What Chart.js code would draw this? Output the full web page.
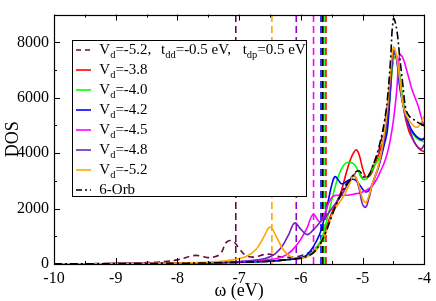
<!DOCTYPE html>
<html>
<head>
<meta charset="utf-8">
<script src="https://cdn.jsdelivr.net/npm/chart.js@4.4.1/dist/chart.umd.min.js"></script>
<style>
html,body{margin:0;padding:0;background:#fff;}
canvas{display:block;}
</style>
</head>
<body>
<canvas id="c" width="436" height="301" style="width:436px;height:301px"></canvas>
<script>
// ω grid (eV)
const omega = [-10,-9.5,-9,-8.5,-8.2,-8,-7.9,-7.8,-7.7,-7.6,-7.5,-7.4,-7.3,-7.2,-7.1,-7.0,-6.9,-6.8,-6.7,-6.6,-6.5,-6.4,-6.3,-6.2,-6.1,-6.0,-5.9,-5.8,
  -5.7,-5.65,-5.6,-5.55,-5.5,-5.45,-5.4,-5.35,-5.3,-5.25,-5.2,-5.15,-5.1,-5.05,-5.0,-4.95,-4.9,-4.85,-4.8,-4.75,-4.7,-4.65,-4.6,-4.55,-4.5,-4.45,-4.4,-4.35,-4.3,-4.25,-4.2,-4.15,-4.1,-4.05,-4.0];

const dosVd52tdd = [5,10,20,50,90,150,210,275,310,280,230,260,380,800,820,560,320,250,280,340,350,290,250,240,260,300,380,500,
  730,940,1180,1480,1780,2080,2330,2580,2780,2940,3090,3200,3280,3240,3100,3050,3200,3450,3700,4000,4450,5000,5700,6700,7600,7500,6800,5900,5300,5000,4800,4650,4550,4500,4500];
const dosVd38 = [5,8,12,18,22,25,28,30,33,36,40,44,48,52,57,62,68,75,83,92,105,120,140,160,185,220,290,430,
  700,900,1200,1550,1850,2080,2300,2600,3000,3400,3750,4000,4120,3900,3450,3150,3150,3300,3600,3900,4200,4600,5200,6300,7400,7500,6700,5900,5200,4800,4550,4350,4200,4100,4050];
const dosVd40 = [5,8,12,18,22,25,28,30,33,36,40,44,48,52,57,62,68,75,83,92,105,120,140,160,185,220,300,440,
  750,1000,1400,1850,2300,2750,3120,3400,3580,3660,3660,3620,3480,3260,3070,3060,3180,3380,3580,3750,4000,4400,5000,6200,7400,7500,6800,6000,5400,5000,4750,4600,4500,4450,4400];
const dosVd42 = [5,8,12,18,22,25,28,30,33,36,40,44,48,52,57,62,68,75,83,92,105,120,140,160,185,230,330,620,
  1050,1400,1850,2350,2850,3150,3050,2900,2920,3000,3050,3060,3000,2860,2700,2600,2650,2850,3150,3450,3850,4300,4800,6300,7700,7400,6400,5800,5350,5050,4800,4650,4550,4480,4550];
const dosVd45 = [5,8,12,18,22,25,28,31,35,39,44,49,55,62,70,80,92,106,122,140,165,200,260,380,600,900,1300,1790,
  1520,1620,1900,2200,2400,2470,2480,2480,2480,2480,2500,2520,2540,2560,2600,2650,2720,2800,2950,3150,3400,3650,4000,4500,5200,6200,7550,7450,7100,6700,6300,6000,5700,5300,4950];
const dosVd48 = [5,8,12,18,22,26,30,34,38,42,48,54,60,68,78,90,105,125,150,190,260,400,650,1050,1480,1250,1060,1230,
  1480,1600,1700,1850,2000,2150,2300,2450,2650,2850,3050,3200,3050,2650,2150,2050,2350,2800,3150,3450,3900,4500,5300,6500,7650,7400,6600,5800,5250,4950,4600,4350,4200,4150,4300];
const dosVd52 = [5,8,12,20,28,35,40,45,52,60,70,82,98,120,150,195,260,380,600,980,1330,1000,560,320,220,200,260,390,
  650,850,1100,1450,1750,1980,2150,2300,2480,2700,2950,3200,3100,2750,2350,2220,2450,2850,3150,3500,4000,4700,5600,6900,7820,7500,6700,5800,5400,5200,5050,4950,4950,5100,5350];
const dos6Orb = [5,8,12,18,22,25,28,30,33,36,40,44,48,52,57,62,68,75,83,92,105,120,140,160,185,210,280,400,
  680,880,1120,1420,1720,2020,2280,2530,2730,2890,3040,3200,3340,3350,3200,3100,3200,3450,3750,4100,4550,5100,5900,7300,8850,8500,7500,6500,5600,5350,5250,5180,5100,5050,5000];

// chemical potentials (vertical dashed lines)
const muPositions = [-7.055, -6.47, -6.075, -5.795, -5.674, -5.645, -5.626, -5.594];
const muColors = ['rgb(103,7,72)','rgb(255,165,0)','rgb(148,0,211)','rgb(255,0,255)','rgb(0,0,255)','rgb(0,0,0)','rgb(0,255,0)','rgb(255,0,0)'];

const xTicks = [-10,-9,-8,-7,-6,-5,-4];
const yTicks = [0,2000,4000,6000,8000];

const C = {maroon:'rgb(103,7,72)', red:'rgb(255,0,0)', green:'rgb(0,255,0)', blue:'rgb(0,0,255)', magenta:'rgb(255,0,255)', indigo:'rgb(114,33,188)', orange:'rgb(255,165,0)', black:'rgb(0,0,0)'};

function pts(ys){ return omega.map((x,i)=>({x:x, y:ys[i]})); }

const series = [
  {data:dosVd52tdd, color:C.maroon, dash:[6,4]},
  {data:dosVd38, color:C.red, dash:[]},
  {data:dosVd40, color:C.green, dash:[]},
  {data:dosVd42, color:C.blue, dash:[]},
  {data:dosVd45, color:C.magenta, dash:[]},
  {data:dosVd48, color:C.indigo, dash:[]},
  {data:dosVd52, color:C.orange, dash:[]},
  {data:dos6Orb, color:C.black, dash:[8,3,2,3]}
];

const datasets = [];
series.forEach((s,i)=>{
  datasets.push({data:pts(s.data), borderColor:s.color, borderWidth:1.6, borderDash:s.dash, pointRadius:0, tension:0.4, fill:false, order:8-i});
});
muPositions.forEach((m,i)=>{
  datasets.push({data:[{x:m,y:0},{x:m,y:9000}], borderColor:muColors[i], borderWidth:1.6, borderDash:[7,4], pointRadius:0, tension:0, fill:false, order:20+i});
});

const FONT = '"Liberation Serif", "Times New Roman", serif';

const legendRows = [
  {color:C.maroon, dash:[5,4], groups:[{x:99.3,parts:[['V',0],['d',1],['=-5.2,',0]]},{x:161,parts:[['t',0],['dd',1],['=-0.5 eV,',0]]},{x:242.7,parts:[['t',0],['dp',1],['=0.5 eV',0]]}]},
  {color:C.red, dash:[], groups:[{x:99.3,parts:[['V',0],['d',1],['=-3.8',0]]}]},
  {color:C.green, dash:[], groups:[{x:99.3,parts:[['V',0],['d',1],['=-4.0',0]]}]},
  {color:C.blue, dash:[], groups:[{x:99.3,parts:[['V',0],['d',1],['=-4.2',0]]}]},
  {color:C.magenta, dash:[], groups:[{x:99.3,parts:[['V',0],['d',1],['=-4.5',0]]}]},
  {color:C.indigo, dash:[], groups:[{x:99.3,parts:[['V',0],['d',1],['=-4.8',0]]}]},
  {color:C.orange, dash:[], groups:[{x:99.3,parts:[['V',0],['d',1],['=-5.2',0]]}]},
  {color:C.black, dash:[6,3,2,3], groups:[{x:99.3,parts:[['6-Orb',0]]}]}
];

const deco = {
  id:'deco',
  afterDatasetsDraw(chart){
    const ctx = chart.ctx;
    ctx.save();
    ctx.fillStyle = '#fff';
    ctx.fillRect(72,40,235,157);
    ctx.strokeStyle = '#000'; ctx.lineWidth = 1;
    ctx.strokeRect(72.5,40.5,234,156);
    legendRows.forEach((r,i)=>{
      const base = 54 + 20*i;
      ctx.strokeStyle = r.color; ctx.lineWidth = 1.6; ctx.setLineDash(r.dash);
      ctx.beginPath(); ctx.moveTo(76, base-4); ctx.lineTo(91, base-4); ctx.stroke();
      ctx.setLineDash([]);
      ctx.fillStyle = '#000'; ctx.textBaseline = 'alphabetic'; ctx.textAlign = 'left';
      r.groups.forEach(g=>{
        let x = g.x;
        g.parts.forEach(p=>{
          if(p[1]){ ctx.font = '10.5px ' + FONT; ctx.fillText(p[0], x, base+4); }
          else { ctx.font = '15px ' + FONT; ctx.fillText(p[0], x, base); }
          x += ctx.measureText(p[0]).width;
        });
      });
    });
    ctx.restore();
  },
  afterDraw(chart){
    const ctx = chart.ctx, a = chart.chartArea, xs = chart.scales.x, ys = chart.scales.y;
    ctx.save();
    ctx.strokeStyle = '#000'; ctx.lineWidth = 1.2; ctx.setLineDash([]);
    ctx.strokeRect(Math.round(a.left)+0.5, Math.round(a.top)+0.5, Math.round(a.right-a.left), Math.round(a.bottom-a.top));
    ctx.lineWidth = 1;
    ctx.beginPath();
    for(let v=-10; v<=-3.99; v+=0.5){
      const px = Math.round(xs.getPixelForValue(v))+0.5;
      const len = (Math.abs(v-Math.round(v))<1e-6) ? 6 : 3;
      ctx.moveTo(px, a.bottom); ctx.lineTo(px, a.bottom-len);
      ctx.moveTo(px, a.top); ctx.lineTo(px, a.top+len);
    }
    for(let v=0; v<=9000; v+=1000){
      const py = Math.round(ys.getPixelForValue(v))+0.5;
      const len = (v%2000===0) ? 6 : 3;
      ctx.moveTo(a.left, py); ctx.lineTo(a.left+len, py);
      ctx.moveTo(a.right, py); ctx.lineTo(a.right-len, py);
    }
    ctx.stroke();
    ctx.fillStyle = '#000';
    ctx.font = '18px ' + FONT;
    ctx.textAlign = 'center'; ctx.textBaseline = 'middle';
    ctx.fillText('ω (eV)', (a.left+a.right)/2, 291);
    ctx.translate(13, (a.top+a.bottom)/2);
    ctx.rotate(-Math.PI/2);
    ctx.fillText('DOS', 0, 0);
    ctx.restore();
  }
};

new Chart(document.getElementById('c'), {
  type:'line',
  data:{datasets:datasets},
  options:{
    responsive:false, animation:false, devicePixelRatio:1,
    layout:{padding:{top:2,right:8,left:0,bottom:0}},
    plugins:{legend:{display:false}, tooltip:{enabled:false}},
    scales:{
      x:{type:'linear', min:-10, max:-4,
        afterFit(s){ s.height = 37; },
        afterBuildTicks(s){ s.ticks = xTicks.map(v=>({value:v})); },
        grid:{display:false, drawTicks:false}, border:{display:false},
        ticks:{padding:5, color:'#000', maxRotation:0, autoSkip:false, font:{family:FONT, size:16}, callback:v=>String(v)}},
      y:{type:'linear', min:0, max:9000,
        afterFit(s){ s.width = 54; },
        afterBuildTicks(s){ s.ticks = yTicks.map(v=>({value:v})); },
        grid:{display:false, drawTicks:false}, border:{display:false},
        ticks:{padding:5, color:'#000', autoSkip:false, font:{family:FONT, size:16}, callback:v=>String(v)}}
    }
  },
  plugins:[deco]
});
</script>
</body>
</html>
